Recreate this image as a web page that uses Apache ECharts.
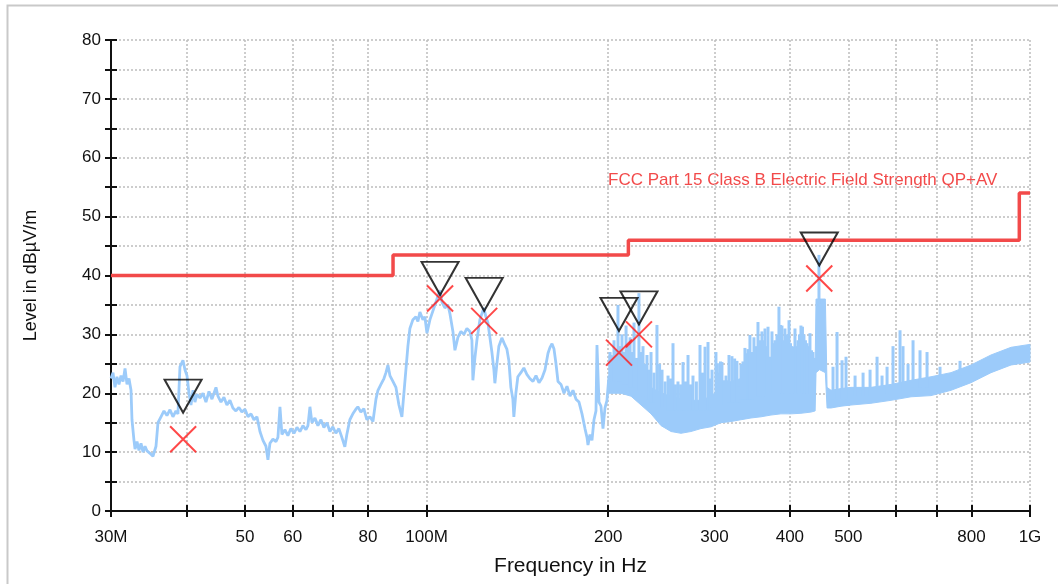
<!DOCTYPE html>
<html>
<head>
<meta charset="utf-8">
<script src="https://cdn.jsdelivr.net/npm/echarts@6/dist/echarts.min.js"></script>
<style>
  html, body { margin: 0; padding: 0; background: #fff; }
  #chart { width: 1058px; height: 584px; }
</style>
</head>
<body>
<div id="chart"></div>
<script>
// Measured sweep, 30 MHz .. 200 MHz (frequency in MHz, level in dBµV/m)
const sweepFreq = [
  30.00, 30.23, 30.46, 30.69, 30.93, 31.17, 31.41, 31.65, 31.89, 32.13, 32.38, 32.50, 32.75, 32.88,
  33.13, 33.38, 33.64, 33.90, 34.16, 34.42, 34.81, 35.21, 35.62, 35.89, 36.30, 36.72, 37.14, 37.57,
  38.00, 38.44, 38.73, 39.03, 39.48, 39.78, 40.09, 40.40, 40.71, 41.02, 41.33, 41.65, 42.13, 42.61,
  43.10, 43.60, 44.10, 44.44, 44.78, 45.12, 45.64, 46.16, 46.69, 47.23, 47.77, 48.32, 48.87, 49.43,
  50.02, 50.60, 51.18, 51.77, 52.36, 52.96, 53.57, 54.19, 54.60, 55.02, 55.65, 56.29, 56.72, 57.16,
  57.59, 58.25, 58.92, 59.60, 60.30, 60.99, 61.69, 62.40, 63.12, 63.60, 64.09, 64.58, 65.32, 66.07,
  66.83, 67.60, 68.38, 69.17, 69.95, 70.75, 71.57, 72.39, 73.22, 73.78, 74.63, 75.49, 76.36, 76.94,
  77.83, 78.72, 79.63, 80.58, 81.51, 82.45, 83.08, 84.03, 85.00, 85.65, 86.30, 86.96, 87.96, 88.98,
  90.00, 91.03, 92.08, 93.14, 93.85, 94.93, 96.02, 96.76, 97.50, 98.62, 99.37, 100.15, 101.31, 102.47,
  103.65, 105.25, 106.05, 107.27, 108.51, 109.34, 110.59, 111.44, 112.72, 114.02, 115.33, 116.66, 118.00, 118.90,
  119.35, 120.27, 121.19, 122.58, 123.52, 124.46, 125.42, 126.38, 127.34, 128.32, 129.30, 129.79, 130.79, 131.79,
  133.30, 134.84, 135.87, 136.91, 137.95, 139.01, 139.54, 140.61, 141.68, 143.31, 144.96, 146.63, 148.31, 150.10,
  151.84, 153.59, 155.36, 157.15, 158.96, 160.17, 161.40, 162.64, 163.88, 165.14, 167.04, 168.96, 170.90, 172.87,
  174.86, 176.87, 178.91, 180.97, 183.05, 184.45, 185.16, 186.57, 188.00, 189.44, 190.89, 191.62, 193.09, 194.57,
  196.06, 197.56, 199.07, 200.60
];
const sweepLevel = [
  22.5, 23.5, 21.0, 22.8, 21.5, 23.0, 22.0, 24.2, 21.5, 22.5, 20.5, 15.5, 12.0, 10.5,
  11.8, 10.3, 11.5, 10.0, 11.0, 10.2, 9.8, 9.3, 11.0, 15.0, 16.0, 17.0, 16.2, 17.2,
  16.0, 17.0, 16.5, 24.5, 25.6, 24.0, 23.0, 20.0, 18.0, 20.5, 18.5, 19.8, 19.2, 20.0,
  18.5, 20.3, 19.0, 20.0, 21.0, 19.5, 18.5, 19.3, 18.0, 18.8, 17.5, 17.0, 17.6, 16.8,
  17.3, 16.0, 16.5, 15.5, 16.0, 13.5, 12.0, 11.0, 8.7, 11.5, 12.2, 11.8, 12.5, 17.7,
  13.0, 13.8, 12.8, 14.0, 13.2, 14.2, 13.5, 14.5, 13.8, 14.5, 17.7, 15.0, 15.8, 14.5,
  15.5, 14.2, 15.0, 13.5, 14.3, 13.2, 14.0, 12.5, 10.9, 13.0, 15.5, 16.5, 17.3, 17.7,
  16.8, 17.4, 15.5, 16.0, 15.2, 19.0, 20.5, 21.5, 22.5, 23.5, 24.8, 23.0, 22.0, 21.0,
  18.0, 16.0, 22.0, 28.0, 31.0, 32.5, 33.0, 32.2, 33.8, 32.5, 33.0, 30.2, 32.5, 34.0,
  35.5, 37.5, 35.5, 34.5, 35.0, 33.5, 30.5, 27.3, 29.5, 30.5, 30.0, 31.0, 30.5, 29.0,
  22.2, 26.0, 29.0, 32.5, 33.5, 34.5, 33.0, 32.0, 29.5, 27.0, 24.0, 21.7, 25.0, 28.0,
  29.4, 28.2, 27.5, 25.5, 21.0, 19.0, 16.0, 20.0, 22.8, 23.5, 24.3, 23.2, 22.5, 22.0,
  23.0, 21.8, 22.6, 24.0, 26.8, 27.8, 28.4, 27.5, 25.0, 22.0, 21.5, 20.0, 21.2, 19.5,
  20.5, 19.0, 18.5, 16.5, 14.0, 12.5, 11.2, 13.0, 12.0, 15.5, 17.0, 28.2, 18.5, 17.8,
  14.0, 17.5, 18.8, 23.0
];

// Dense emission band above 200 MHz: lower and upper envelope
const bandFreq = [
  200.6, 210.0, 218.2, 226.7, 235.5, 244.7, 254.2, 264.0, 274.2, 285.0, 296.1, 307.5, 319.5,
  331.9, 344.9, 358.3, 372.2, 386.6, 401.7, 417.3, 433.5, 440.5, 442.0, 448.0, 458.0, 461.0,
  468.1, 486.3, 505.2, 545.2, 588.5, 635.1, 685.5, 739.8, 798.5, 861.8, 930.2, 1000
];
const bandLow = [
  20.0, 20.0, 19.5, 18.0, 16.5, 14.5, 13.5, 13.2, 13.5, 14.0, 14.3, 15.0, 15.2,
  15.5, 15.8, 16.0, 16.3, 16.5, 16.5, 16.6, 16.8, 17.0, 23.5, 24.0, 23.5, 17.5,
  17.5, 17.8, 18.0, 18.3, 18.8, 19.4, 19.6, 20.5, 21.8, 23.5, 24.8, 25.3
];
const bandHigh = [
  26.5, 26.0, 24.5, 22.5, 21.0, 20.0, 19.5, 19.0, 18.8, 18.8, 19.5, 21.0, 22.0,
  22.5, 23.0, 23.5, 24.0, 24.5, 24.5, 24.5, 24.5, 24.5, 36.0, 36.0, 36.0, 21.0,
  20.5, 20.8, 21.0, 21.0, 21.5, 22.2, 22.8, 23.5, 24.8, 26.5, 27.8, 28.3
];

// Narrow-band spikes rising out of the band: frequency, foot level, top level
const spikeFreq = [
  201.4, 202.8, 204.5, 206.0, 207.6, 209.2, 210.8, 212.4, 214.1, 215.7, 217.4, 219.0, 220.7, 222.8,
  224.9, 226.6, 228.4, 230.1, 231.9, 233.7, 235.5, 238.2, 240.9, 243.3, 245.6, 248.5, 251.3, 253.7,
  256.1, 258.5, 261.0, 263.6, 266.1, 268.6, 271.2, 273.8, 276.4, 280.0, 283.9, 286.6, 289.4, 292.7,
  295.0, 297.2, 301.7, 303.4, 305.2, 307.0, 308.7, 311.0, 313.5, 315.3, 317.1, 320.7, 324.0, 326.9,
  329.4, 331.9, 334.5, 337.0, 338.9, 340.9, 342.2, 343.5, 346.2, 348.8, 351.5, 354.2, 356.9, 359.6,
  361.7, 363.8, 366.0, 368.0, 370.8, 373.6, 375.7, 377.9, 380.8, 383.7, 385.9, 388.1, 390.3, 392.6,
  395.6, 398.7, 401.0, 403.2, 405.6, 407.9, 410.2, 412.6, 415.0, 417.3, 419.7, 422.1, 424.5, 427.0,
  429.4, 431.9, 434.4, 436.9, 439.4, 447.0, 471.6, 478.9, 488.1, 495.6, 513.0, 528.9, 543.2, 557.9,
  568.6, 579.6, 592.9, 609.0, 616.0, 627.9, 640.0, 657.3, 675.1, 709.4, 765.7
];
const spikeBase = [
  22, 22, 22, 22, 22, 22, 22, 21.5, 21.5, 21.5, 21, 21, 21, 20.5,
  20.5, 20, 19.5, 19.5, 19, 19, 18.5, 18.5, 18, 18, 17.5, 17.5, 17, 17,
  17, 17, 17, 17, 17, 17, 17, 17, 17, 17, 17, 17, 17, 17,
  17, 17.5, 17.5, 17.5, 18, 18, 18, 18, 18, 18, 18.5, 18.5, 18.5, 18.5,
  18.5, 19, 19, 19, 19, 19, 19, 19, 19, 19.5, 19.5, 19.5, 19.5, 19.5,
  19.5, 20, 20, 20, 20, 20, 20, 20, 20, 20, 20, 20, 20, 20,
  20, 20, 20, 20, 20, 20, 20, 20, 20, 20, 20, 20, 20, 20,
  20, 20, 20, 20, 20, 35, 19, 19, 19, 19, 19.5, 19.5, 19.5, 19.5,
  20, 20, 20, 20.5, 20.5, 20.5, 21, 21, 21, 22, 23
];
const spikeTop = [
  27, 26, 29, 27.5, 35, 28, 30, 27, 31.5, 28, 29.5, 27, 32, 26,
  37, 27, 28, 25, 26.5, 24, 27, 23.5, 31.6, 25, 24, 22, 23, 22.5,
  28.5, 21.5, 22, 21.5, 25.3, 22, 26.5, 21.5, 23, 22, 28.2, 23.5, 27.9, 28.7,
  22.5, 24, 27, 25.1, 23.5, 25.4, 25.3, 22.2, 23, 22.2, 26.5, 26.3, 25.9, 25.5,
  21.1, 25, 25.4, 27.7, 26.8, 27.5, 27.3, 29.9, 27, 29.5, 28, 32.1, 29, 30.5,
  29, 31, 28, 31.3, 26.2, 30.5, 28.5, 29, 30, 34.7, 31.6, 31.5, 29, 31,
  30, 32.4, 28.5, 28, 27.9, 31, 28, 29, 30, 31.5, 31.3, 30, 29, 28.5,
  28, 30.2, 27.3, 27, 26, 43.5, 24.5, 30.4, 25.6, 26.2, 23, 23.5, 24, 26.2,
  23, 24.5, 28, 30.7, 28, 25, 29, 27.3, 27, 24.5, 25.5
];

// FCC Part 15 Class B limit (QP + AV), stepped
const limitFreq = [30, 88, 88, 216, 216, 960, 960, 1000];
const limitLevel = [40, 40, 43.5, 43.5, 46, 46, 54, 54];

// Peak markers (triangles) and final measurement results (crosses)
const peakFreq = [39.5, 105.3, 124.6, 208.4, 224.9, 447.5];
const peakLevel = [16.7, 36.7, 34.0, 30.6, 31.7, 41.7];
const finalLevel = [12.2, 36.1, 32.3, 26.9, 30.0, 39.5];

// Axis ticks and labels
const xTickValues = [30, 40, 50, 60, 70, 80, 100, 200, 300, 400, 500, 600, 700, 800, 1000];
const xLabelValues = [30, 50, 60, 80, 100, 200, 300, 400, 500, 800, 1000];
const xLabelText = { 30: '30M', 100: '100M', 1000: '1G' };

const TRACE = '#9ccbfa';
const LIMIT = '#f24a4a';
const FONT = '"Liberation Sans", Arial, sans-serif';

const chart = echarts.init(document.getElementById('chart'), null, { renderer: 'canvas' });

const gridLine = { show: true, lineStyle: { color: '#bdbdbd', type: [2, 2], width: 1.5 } };

function xAxisBase(inside) {
  return {
    type: 'log', logBase: 10, min: 30, max: 1000, position: 'bottom',
    axisLine: { show: !inside, onZero: false, lineStyle: { color: '#111', width: 2 } },
    axisTick: { show: true, inside: inside, length: 6, customValues: xTickValues, lineStyle: { color: '#111', width: 2 } },
    minorTick: { show: false },
    splitLine: inside ? { show: false } : gridLine,
    axisLabel: inside ? { show: false } : {
      show: true, customValues: xLabelValues, margin: 18, color: '#111', fontSize: 17, fontFamily: FONT,
      formatter: v => xLabelText[Math.round(v)] || String(Math.round(v))
    },
    name: inside ? '' : 'Frequency in Hz', nameLocation: 'middle', nameGap: 45,
    nameTextStyle: { color: '#111', fontSize: 21, fontFamily: FONT }
  };
}
function yAxisBase(inside) {
  return {
    type: 'value', min: 0, max: 80, interval: 5, position: 'left',
    axisLine: { show: !inside, onZero: false, lineStyle: { color: '#111', width: 2 } },
    axisTick: { show: true, inside: inside, length: 6, lineStyle: { color: '#111', width: 2 } },
    splitLine: inside ? { show: false } : gridLine,
    axisLabel: inside ? { show: false } : {
      show: true, margin: 10, color: '#111', fontSize: 17, fontFamily: FONT,
      formatter: v => (v % 10 === 0 ? String(v) : '')
    },
    name: inside ? '' : 'Level in dBµV/m', nameLocation: 'middle', nameGap: 71,
    nameTextStyle: { color: '#111', fontSize: 18, fontFamily: FONT }
  };
}

chart.setOption({
  animation: false,
  backgroundColor: '#fff',
  grid: { left: 111, right: 28, top: 40, bottom: 73, containLabel: false },
  xAxis: [xAxisBase(false), xAxisBase(true)],
  yAxis: [yAxisBase(false), yAxisBase(true)],
  graphic: [
    {
      type: 'rect', left: 5, top: 3, z: -10, silent: true,
      shape: { width: 1200, height: 1000 },
      style: { fill: 'none', stroke: '#c9c9c9', lineWidth: 2 }
    },
    {
      type: 'text', left: 608, top: 172, silent: true,
      style: { text: 'FCC Part 15 Class B Electric Field Strength QP+AV', fill: LIMIT, fontSize: 17, fontFamily: FONT }
    }
  ],
  series: [
    {
      name: 'band', type: 'custom', silent: true, z: 2,
      data: [[bandFreq[0], bandLow[0]]],
      renderItem: function (params, api) {
        const pts = [];
        for (let i = 0; i < bandFreq.length; i++) pts.push(api.coord([bandFreq[i], bandHigh[i]]));
        for (let i = bandFreq.length - 1; i >= 0; i--) pts.push(api.coord([bandFreq[i], bandLow[i]]));
        return { type: 'polygon', shape: { points: pts }, style: { fill: TRACE, stroke: TRACE, lineWidth: 1 } };
      }
    },
    {
      name: 'spikes', type: 'custom', silent: true, z: 2,
      data: spikeFreq.map((f, i) => [f, spikeBase[i], spikeTop[i]]),
      encode: { x: 0, y: [1, 2] },
      renderItem: function (params, api) {
        const a = api.coord([api.value(0), api.value(1)]);
        const b = api.coord([api.value(0), api.value(2)]);
        return { type: 'line', shape: { x1: a[0], y1: a[1], x2: b[0], y2: b[1] }, style: { stroke: TRACE, lineWidth: 3 } };
      }
    },
    {
      name: 'sweep', type: 'line', showSymbol: false, silent: true, z: 2,
      data: sweepFreq.map((f, i) => [f, sweepLevel[i]]),
      lineStyle: { color: TRACE, width: 2.8 }
    },
    {
      name: 'limit', type: 'line', showSymbol: false, silent: true, z: 3,
      data: limitFreq.map((f, i) => [f, limitLevel[i]]),
      lineStyle: { color: LIMIT, width: 3.5 }
    },
    {
      name: 'final', type: 'scatter', silent: true, z: 4,
      data: peakFreq.map((f, i) => [f, finalLevel[i]]),
      symbol: 'path://M0,0L10,10M10,0L0,10', symbolSize: 26,
      itemStyle: { color: 'rgba(0,0,0,0)', borderColor: '#ff1a1a', borderWidth: 2 }
    },
    {
      name: 'peak', type: 'scatter', silent: true, z: 5,
      data: peakFreq.map((f, i) => [f, peakLevel[i]]),
      symbol: 'path://M0,0L20,0L10,18Z', symbolSize: [37, 33], symbolOffset: [0, '-50%'],
      itemStyle: { color: 'rgba(0,0,0,0)', borderColor: '#000', borderWidth: 2 }
    }
  ]
});
</script>
</body>
</html>
